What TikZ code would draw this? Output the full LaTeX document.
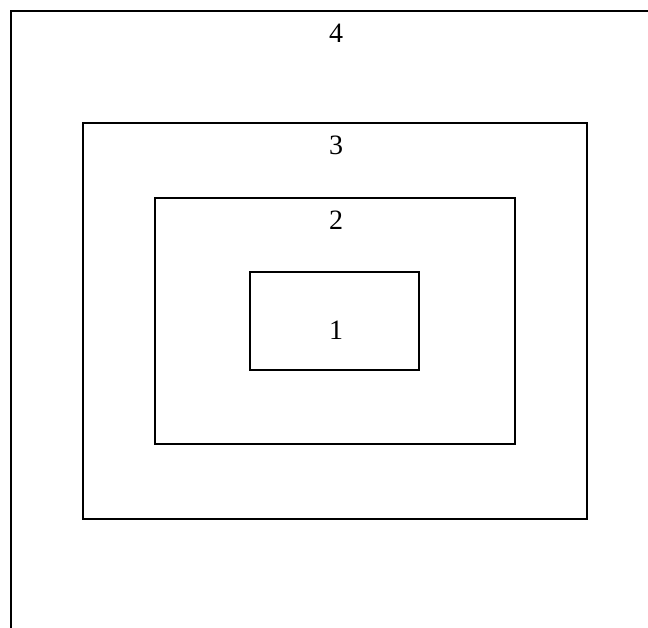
\documentclass[tikz,border=0pt]{standalone}
\usepackage{fontspec}
\setmainfont{Liberation Serif}
\begin{document}
\begin{tikzpicture}[x=1pt,y=-1pt,
  box/.style={draw=black,line width=2pt},
  lab/.style={font=\fontsize{28}{32}\selectfont,inner sep=0pt}]
\useasboundingbox (0,0) rectangle (648,628);
\draw[box] (11,640) -- (11,11) -- (660,11);
\draw[box] (83,123) rectangle (587,519);
\draw[box] (155,198) rectangle (515,444);
\draw[box] (250,272) rectangle (419,370);
\node[lab] (n4) at (336,33) {4};
\node[lab] (n3) at (336,145) {3};
\node[lab] (n2) at (336,220) {2};
\node[lab] (n1) at (336,330) {1};
\end{tikzpicture}
\end{document}
